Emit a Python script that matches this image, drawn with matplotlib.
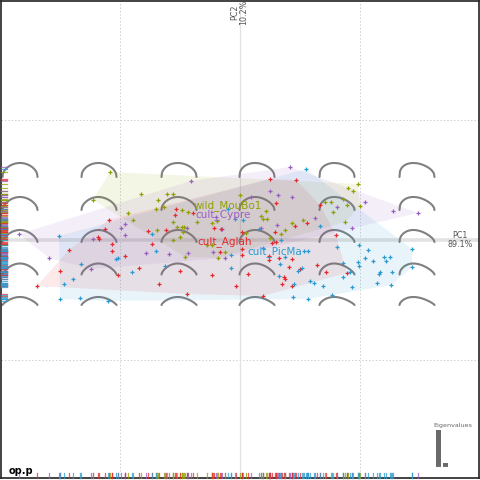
import numpy as np
import matplotlib
matplotlib.use("Agg")
import matplotlib.pyplot as plt
from matplotlib.transforms import blended_transform_factory

# ---------------- data ----------------
groups = ["wild_MouBo1", "cult_Cypre", "cult_Aglah", "cult_PicMa"]
colors = ["#8fa000", "#9a5fc2", "#e42a2e", "#2b9ad2"]

pc1_wild = [-0.130, -0.147, -0.099, -0.073, -0.067, -0.082, -0.084, -0.076, -0.058, -0.052,
            -0.112, -0.107, -0.067, -0.028, -0.023, -0.063, -0.058, -0.056, -0.083, -0.057,
            -0.067, -0.060, -0.033, -0.028, -0.015, -0.055, -0.022, 0.118, 0.108, 0.113,
            0.000, 0.103, 0.085, 0.091, 0.107, 0.120, 0.093, 0.026, 0.021, 0.023,
            0.027, 0.063, 0.052, 0.105, 0.045, 0.041, 0.030, 0.006, -0.043]
pc2_wild = [0.068, 0.040, 0.046, 0.046, 0.046, 0.040, 0.031, 0.033, 0.030, 0.028,
            0.027, 0.020, 0.018, 0.017, 0.019, 0.013, 0.013, 0.013, 0.010, 0.008,
            0.000, 0.003, -0.005, -0.005, -0.012, -0.017, -0.018, 0.056, 0.052, 0.049,
            0.045, 0.041, 0.038, 0.038, 0.035, 0.034, 0.028, 0.029, 0.024, 0.021,
            0.021, 0.020, 0.017, 0.018, 0.010, 0.006, 0.002, 0.007, 0.018]

pc1_cypre = [-0.049, -0.024, -0.018, -0.115, -0.119, -0.053, -0.221, -0.147, -0.115, -0.094,
             -0.071, -0.052, -0.027, -0.015, -0.191, -0.149, 0.050, 0.030, 0.038, 0.052,
             0.011, 0.125, 0.097, 0.153, 0.178, 0.075, 0.037, 0.112, 0.021]
pc2_cypre = [0.059, 0.023, 0.011, 0.016, 0.012, 0.012, 0.006, 0.001, 0.005, -0.013,
             -0.014, -0.013, -0.012, -0.018, -0.018, -0.029, 0.073, 0.049, 0.045, 0.043,
             0.043, 0.038, 0.033, 0.029, 0.027, 0.022, 0.015, 0.012, 0.012]

pc1_aglan = [-0.064, -0.047, -0.131, -0.135, -0.092, -0.074, -0.019, -0.142, -0.141, -0.128,
             -0.088, -0.128, -0.171, -0.115, -0.020, -0.180, -0.101, -0.060, -0.122, -0.028,
             -0.203, -0.081, -0.004, -0.053, 0.030, 0.056, 0.036, 0.080, 0.067, 0.055,
             0.002, 0.035, 0.096, 0.032, 0.036, 0.002, 0.002, 0.029, 0.029, 0.039,
             0.052, 0.049, 0.060, 0.077, 0.008, 0.086, 0.107, 0.044, 0.045, 0.042,
             0.052, 0.023, -0.065, -0.026]
pc2_aglan = [0.031, 0.027, 0.020, 0.011, 0.009, 0.010, 0.011, 0.003, 0.001, -0.004,
             -0.004, -0.011, -0.010, -0.016, -0.012, -0.031, -0.028, -0.031, -0.035, -0.035,
             -0.046, -0.044, -0.046, -0.054, 0.061, 0.060, 0.037, 0.035, 0.017, 0.014,
             0.008, 0.008, 0.005, -0.003, -0.002, -0.009, -0.015, -0.016, -0.020, -0.018,
             -0.019, -0.027, -0.029, -0.025, -0.034, -0.032, -0.033, -0.037, -0.039, -0.044,
             -0.046, -0.056, 0.025, 0.012]

pc1_picma = [-0.012, -0.005, -0.088, -0.181, -0.084, -0.009, -0.122, -0.124, -0.159, -0.108,
             -0.075, -0.009, -0.167, -0.176, -0.180, -0.160, -0.132, 0.066, 0.003, 0.080,
             0.019, 0.041, 0.119, 0.023, 0.064, 0.068, 0.097, 0.128, 0.172, 0.125,
             0.118, 0.133, 0.144, 0.150, 0.146, 0.103, 0.172, 0.062, 0.058, 0.119,
             0.110, 0.103, 0.140, 0.139, 0.152, 0.040, 0.039, 0.045, 0.070, 0.074,
             0.137, 0.151, 0.054, 0.083, 0.112, 0.092, 0.053, 0.068]
pc2_picma = [0.031, 0.021, 0.006, 0.004, -0.011, -0.015, -0.018, -0.019, -0.024, -0.032,
             -0.026, -0.028, -0.039, -0.044, -0.059, -0.058, -0.061, 0.071, 0.020, 0.014,
             0.011, 0.000, -0.005, -0.008, -0.011, -0.011, -0.007, -0.010, -0.009, -0.018,
             -0.022, -0.021, -0.017, -0.017, -0.021, -0.023, -0.027, -0.028, -0.031, -0.026,
             -0.032, -0.037, -0.032, -0.034, -0.032, -0.024, -0.036, -0.017, -0.041, -0.043,
             -0.043, -0.045, -0.044, -0.046, -0.047, -0.055, -0.057, -0.059]

# group means (label anchors)
mean_pc1 = [-0.012, -0.017, -0.015, 0.035]
mean_pc2 = [0.034, 0.025, -0.002, -0.012]

eigen_pct = [89.1, 10.2, 0.5, 0.2]
axis1_label = "PC1\n89.1%"
axis2_label = "PC2\n10.2%"

pc1_all = [pc1_wild, pc1_cypre, pc1_aglan, pc1_picma]
pc2_all = [pc2_wild, pc2_cypre, pc2_aglan, pc2_picma]


def convex_hull(pts):
    pts = sorted(set(map(tuple, pts)))
    if len(pts) < 3:
        return pts
    def cross(o, a, b):
        return (a[0]-o[0])*(b[1]-o[1]) - (a[1]-o[1])*(b[0]-o[0])
    lower, upper = [], []
    for p in pts:
        while len(lower) >= 2 and cross(lower[-2], lower[-1], p) <= 0:
            lower.pop()
        lower.append(p)
    for p in reversed(pts):
        while len(upper) >= 2 and cross(upper[-2], upper[-1], p) <= 0:
            upper.pop()
        upper.append(p)
    return lower[:-1] + upper[:-1]


fig = plt.figure(figsize=(4.8, 4.8), dpi=100)
ax = fig.add_axes([1/480, 2/480, 478/480, 477/480])
ax.set_xlim(-0.239, 0.239)
ax.set_ylim(-0.238, 0.239)
ax.set_xticks([]); ax.set_yticks([])
for s in ax.spines.values():
    s.set_color("#222222"); s.set_linewidth(1.2)

# grid
for g in (-0.12, 0.12):
    ax.axvline(g, color="#cfcfcf", lw=0.7, ls=(0, (1.5, 2)), zorder=0)
    ax.axhline(g, color="#cfcfcf", lw=0.7, ls=(0, (1.5, 2)), zorder=0)
ax.axhline(0, color="#e2e2e2", lw=2.6, zorder=0.5)
ax.axvline(0, color="#e2e2e2", lw=0.9, zorder=0.5)

# morphospace shapes
col_x = [-0.220, -0.141, -0.061, 0.017, 0.097, 0.177]
row_y = [0.070, 0.0365, 0.004, -0.029, -0.061]
row_h = [0.014, 0.013, 0.012, 0.011, 0.008]
w = 0.035
t = np.linspace(0, 1, 80)
for i, cy in enumerate(row_y):
    for j, cx in enumerate(col_x):
        k = 1.0 - 0.05 * j
        p = 0.45 + 0.08 * i
        yy = np.sin(np.pi * t ** k) ** p
        xs = cx - w/2 + w * t
        ys = cy - row_h[i]/2 + row_h[i] * yy
        ax.plot(xs, ys, color="#808080", lw=1.5, solid_capstyle="round", zorder=1)

# hulls, points
for g, c, xs, ys in zip(groups, colors, pc1_all, pc2_all):
    hull = np.array(convex_hull(list(zip(xs, ys))))
    ax.fill(hull[:, 0], hull[:, 1], color=c, alpha=0.10, lw=0, zorder=2)
    ax.plot(xs, ys, ls="none", marker="+", ms=2.4, mew=0.9, color=c, zorder=3)

# labels
for g, c, mx, my in zip(groups, colors, mean_pc1, mean_pc2):
    ax.text(mx, my, g, color=c, fontsize=7.5, ha="center", va="center", zorder=5)

# rugs
trL = blended_transform_factory(ax.transAxes, ax.transData)
trB = blended_transform_factory(ax.transData, ax.transAxes)
for c, xs, ys in zip(colors, pc1_all, pc2_all):
    for y in ys:
        ax.plot([0, 0.013], [y, y], transform=trL, color=c, lw=0.9, alpha=0.75, zorder=4, clip_on=False)
    for x in xs:
        ax.plot([x, x], [0, 0.01], transform=trB, color=c, lw=0.9, alpha=0.75, zorder=4, clip_on=False)

# axis names
fig.text(460/480, 1 - 240/480, axis1_label, ha="center", va="center", fontsize=5.8,
         color="#555555", linespacing=1.0)
fig.text(239/480, 1 - 12/480, axis2_label, ha="center", va="center", fontsize=5.8,
         color="#555555", rotation=90, linespacing=1.0)

fig.text(9/480, 1 - 471/480, "op.p", fontsize=7, fontweight="bold", ha="left", va="center")

# eigenvalues inset
iax = fig.add_axes([435/480, 13/480, 28/480, 37/480])
iax.bar(range(len(eigen_pct)), eigen_pct, width=0.85, color="#6a6a6a")
iax.axhline(0, color="#dddddd", lw=0.8)
iax.set_xlim(-0.5, len(eigen_pct) - 0.5)
iax.set_ylim(0, max(eigen_pct))
iax.axis("off")
fig.text(453/480, 1 - 425/480, "Eigenvalues", fontsize=4.6, color="#666666", ha="center", va="center")

fig.savefig("out.png", dpi=100)
